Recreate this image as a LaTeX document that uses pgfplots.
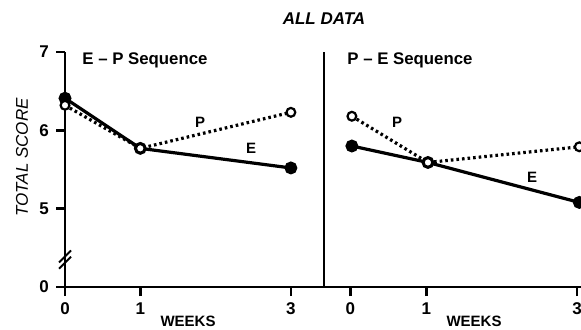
\documentclass[border=0pt]{standalone}
\usepackage{fontspec}
\setmainfont{Liberation Sans}
\usepackage{pgfplots}
\pgfplotsset{compat=1.18}
\begin{document}
\begin{tikzpicture}
\begin{axis}[
  at={(0,0)}, anchor=south west,
  scale only axis,
  width=258pt, height=117.5pt,
  xmin=0, xmax=6.853, ymin=4, ymax=7,
  axis x line=bottom, axis y line=left,
  axis line style={-, line width=1.2pt, black},
  xtick={0,1,3,3.79,4.80,6.80},
  xticklabels={0,1,3,0,1,3},
  ytick={4,5,6,7},
  yticklabels={0,5,6,7},
  tick align=outside,
  major tick length=4.5pt,
  tick style={line width=1.2pt, black},
  ticklabel style={font=\bfseries\fontsize{8.5}{9}\selectfont},
  /pgf/number format/assume math mode=true,
  clip=false,
]
\addplot[black, line width=1.6pt, mark=*, mark size=2.4pt]
  coordinates {(0,6.41) (1,5.77) (3,5.52)};
\addplot[black, line width=1.6pt, dash pattern=on 1.3pt off 1.5pt,
  mark=*, mark size=2.2pt, mark options={solid, fill=white, line width=1.1pt}]
  coordinates {(0,6.32) (1,5.77) (3,6.23)};
\addplot[black, line width=1.6pt, mark=*, mark size=2.4pt]
  coordinates {(3.81,5.80) (4.82,5.59) (6.83,5.08)};
\addplot[black, line width=1.6pt, dash pattern=on 1.3pt off 1.5pt,
  mark=*, mark size=2.2pt, mark options={solid, fill=white, line width=1.1pt}]
  coordinates {(3.81,6.18) (4.82,5.59) (6.83,5.79)};
\draw[line width=1.2pt] (axis cs:3.44,4) -- (axis cs:3.44,7);
\draw[line width=1pt] (axis cs:0,4.31) ++(-3pt,-3pt) -- ++(6pt,6pt);
\draw[line width=1pt] (axis cs:0,4.39) ++(-3pt,-3pt) -- ++(6pt,6pt);
\end{axis}
\node[font=\bfseries\itshape\fontsize{8.5}{9}\selectfont] at (129.5pt,134pt) {ALL DATA};
\node[font=\itshape\fontsize{8.5}{9}\selectfont, rotate=90] at (-21.5pt,64.75pt) {TOTAL SCORE};
\node[font=\bfseries\fontsize{8.4}{9}\selectfont, anchor=west, inner sep=0pt] at (8.5pt,113.5pt) {E -- P Sequence};
\node[font=\bfseries\fontsize{8.4}{9}\selectfont, anchor=west, inner sep=0pt] at (141pt,113.5pt) {P -- E Sequence};
\node[font=\bfseries\fontsize{7.5}{8}\selectfont] at (61.5pt,-17.25pt) {WEEKS};
\node[font=\bfseries\fontsize{7.5}{8}\selectfont] at (204.5pt,-17.25pt) {WEEKS};
\node[font=\bfseries\fontsize{7.5}{8}\selectfont] at (67.5pt,82.5pt) {P};
\node[font=\bfseries\fontsize{7.5}{8}\selectfont] at (93pt,69.5pt) {E};
\node[font=\bfseries\fontsize{7.5}{8}\selectfont] at (166pt,82.5pt) {P};
\node[font=\bfseries\fontsize{7.5}{8}\selectfont] at (233.5pt,55pt) {E};
\pgfresetboundingbox
\path[use as bounding box] (-32.5pt,-21pt) rectangle (258pt,143.5pt);
\end{tikzpicture}
\end{document}
